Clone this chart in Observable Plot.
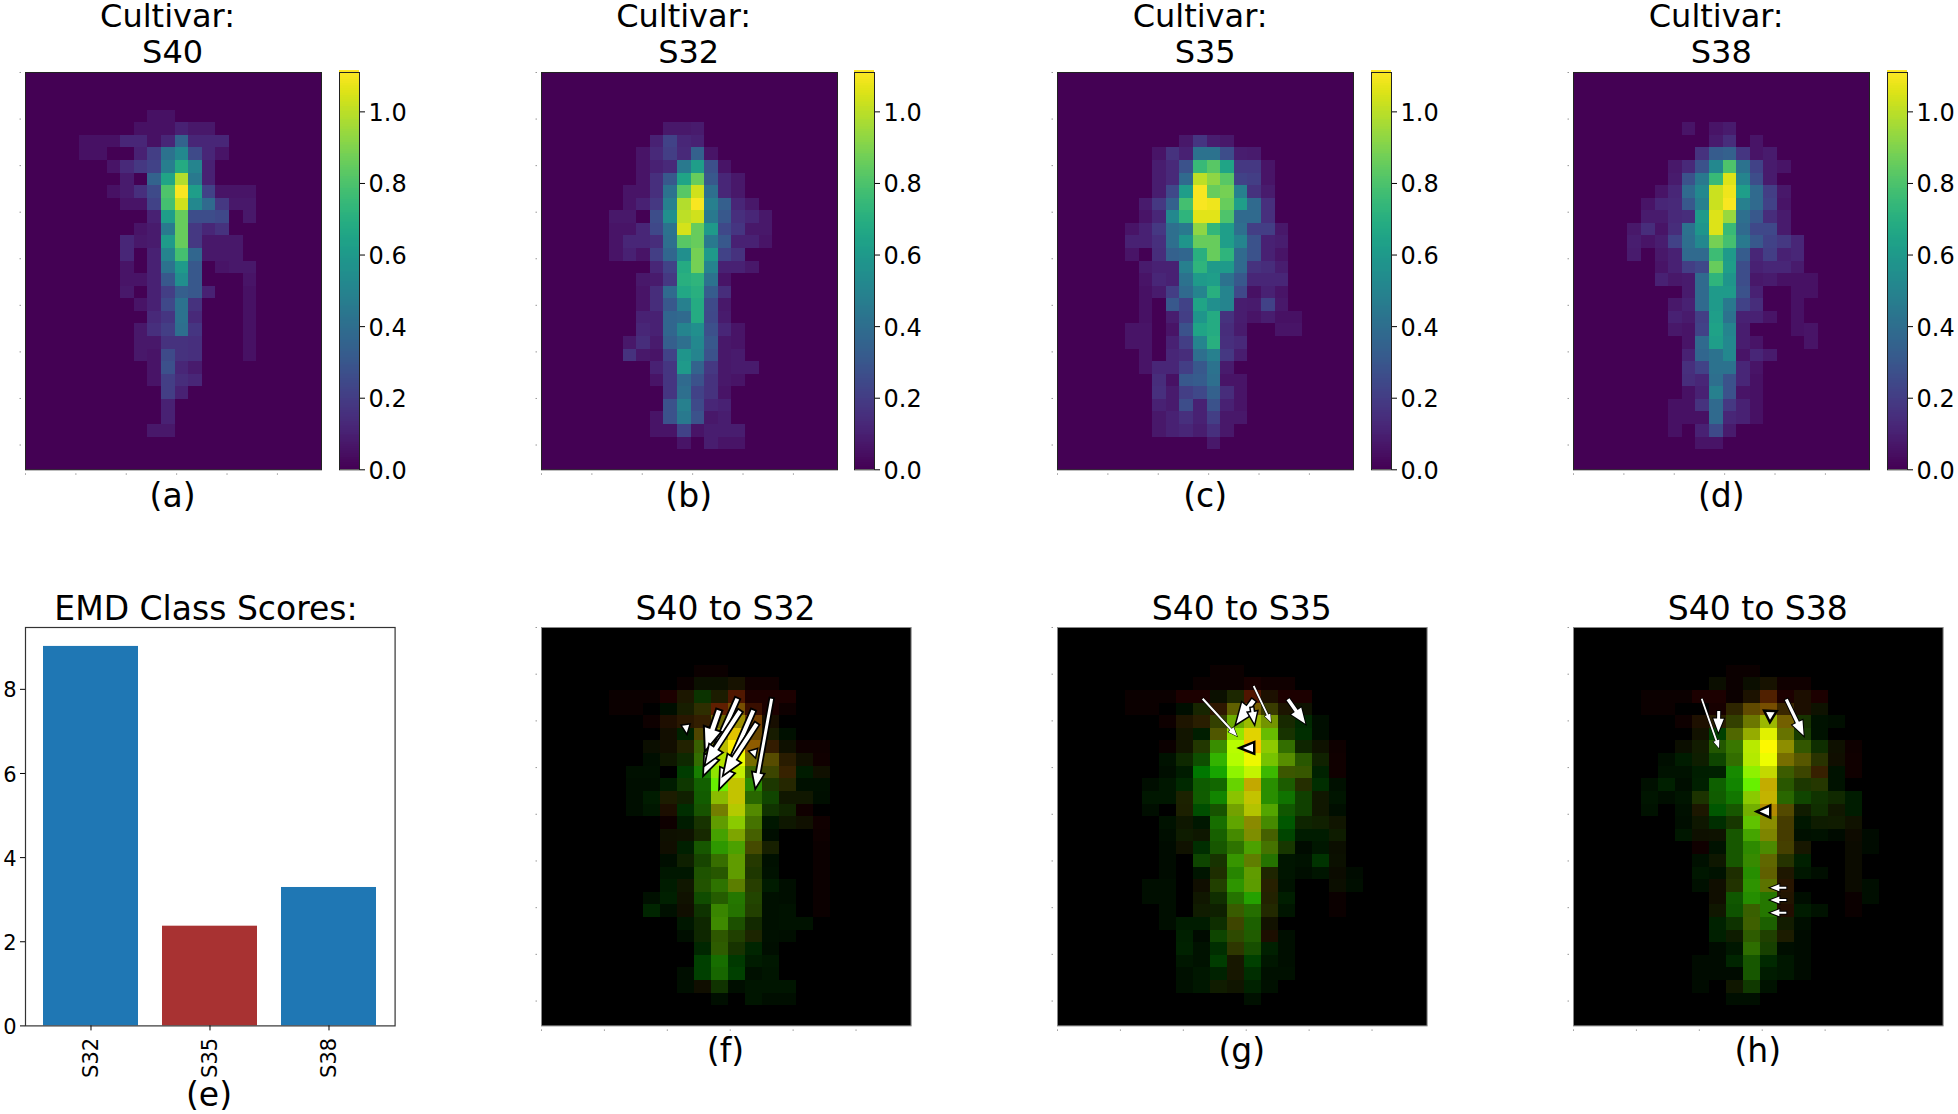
<!DOCTYPE html>
<html><head><meta charset="utf-8">
<script src="https://cdn.jsdelivr.net/npm/d3@7"></script>
<script src="https://cdn.jsdelivr.net/npm/@observablehq/plot@0.6"></script>
<style>
html,body{margin:0;padding:0;background:#fff;width:1958px;height:1114px;overflow:hidden;font-family:"DejaVu Sans",sans-serif;color:#000}
.p{position:absolute}
.t{position:absolute;transform:translateX(-50%);white-space:pre;text-align:center;line-height:36px}
svg{overflow:visible}
</style></head><body>
<script>
// Heatmap values ×100, rows 3–29, columns 4–17
const firstRow = 3, firstCol = 4;
const s40 = [
[0,0,0,0,0,5,5,0,0,0,0,0,0,0],
[0,0,0,0,5,5,5,10,7,7,0,0,0,0],
[5,5,5,12,12,5,12,35,12,12,12,0,0,0],
[5,5,0,0,10,20,42,52,25,12,6,0,0,0],
[0,0,6,13,18,22,47,68,50,10,0,0,0,0],
[0,0,0,8,0,35,65,98,45,10,0,0,0,0],
[0,0,5,8,15,25,80,110,62,22,6,6,6,0],
[0,0,0,6,6,22,78,103,52,38,18,7,7,0],
[0,0,0,0,0,10,62,85,26,26,24,0,7,0],
[0,0,0,0,6,8,45,85,18,12,16,0,0,0],
[0,0,0,12,7,8,60,85,18,7,7,7,0,0],
[0,0,0,12,0,10,50,78,36,7,7,7,0,0],
[0,0,0,6,0,10,42,60,30,0,6,7,7,0],
[0,0,0,6,6,10,30,55,30,0,0,0,6,0],
[0,0,0,7,0,10,20,33,30,10,0,0,5,0],
[0,0,0,0,6,10,24,42,16,0,0,0,5,0],
[0,0,0,0,0,13,17,42,13,0,0,0,5,0],
[0,0,0,0,7,15,20,40,17,0,0,0,5,0],
[0,0,0,0,7,7,16,16,15,0,0,0,5,0],
[0,0,0,0,7,6,25,16,15,0,0,0,5,0],
[0,0,0,0,0,6,27,12,8,0,0,0,0,0],
[0,0,0,0,0,6,20,14,12,0,0,0,0,0],
[0,0,0,0,0,0,20,10,0,0,0,0,0,0],
[0,0,0,0,0,0,10,0,0,0,0,0,0,0],
[0,0,0,0,0,0,10,0,0,0,0,0,0,0],
[0,0,0,0,0,7,7,0,0,0,0,0,0,0],
[0,0,0,0,0,0,0,0,0,0,0,0,0,0]];
const s32 = [
[0,0,0,0,0,0,0,0,0,0,0,0,0,0],
[0,0,0,0,0,7,7,8,0,0,0,0,0,0],
[0,0,0,0,10,22,12,10,0,0,0,0,0,0],
[0,0,0,6,13,20,13,34,6,0,0,0,0,0],
[0,0,0,6,10,13,45,62,27,6,0,0,0,0],
[0,0,0,6,15,30,65,85,30,12,7,0,0,0],
[0,0,6,6,15,42,82,103,40,12,7,0,0,0],
[0,0,6,10,18,48,98,110,48,33,12,7,0,0],
[0,7,7,0,26,55,100,103,45,30,15,12,7,0],
[0,6,6,12,24,42,104,85,60,24,17,7,7,0],
[0,6,12,12,14,40,82,85,45,30,10,10,6,0],
[0,6,10,6,20,36,55,88,60,22,16,0,0,0],
[0,0,0,0,12,22,68,88,50,10,10,7,0,0],
[0,0,0,7,8,18,70,72,42,6,0,0,0,0],
[0,0,0,6,14,38,66,70,32,14,0,0,0,0],
[0,0,0,6,14,30,48,68,25,7,0,0,0,0],
[0,0,0,10,10,36,38,68,24,8,0,0,0,0],
[0,0,0,12,10,36,50,55,27,12,6,0,0,0],
[0,0,7,14,8,33,40,52,30,7,6,0,0,0],
[0,0,16,7,6,22,58,50,28,7,8,0,0,0],
[0,0,0,0,10,17,60,35,18,7,8,8,0,0],
[0,0,0,0,6,17,38,28,16,7,6,0,0,0],
[0,0,0,0,0,17,40,22,16,6,0,0,0,0],
[0,0,0,0,0,28,48,25,12,10,0,0,0,0],
[0,0,0,0,6,28,45,28,7,9,0,0,0,0],
[0,0,0,0,6,6,22,6,9,9,9,0,0,0],
[0,0,0,0,0,0,6,0,9,6,6,0,0,0]];
const s35 = [
[0,0,0,0,0,0,0,0,0,0,0,0,0,0],
[0,0,0,0,0,0,0,0,0,0,0,0,0,0],
[0,0,0,0,0,7,17,9,7,0,0,0,0,0],
[0,0,0,6,16,10,42,42,26,9,8,0,0,0],
[0,0,0,9,13,28,75,82,65,18,18,6,0,0],
[0,0,0,9,13,38,100,92,82,22,20,6,0,0],
[0,0,0,9,24,62,110,85,88,48,16,8,0,0],
[0,0,8,18,34,78,110,108,85,62,38,15,0,0],
[0,0,6,12,52,72,106,106,80,38,38,15,0,0],
[0,6,10,18,40,45,92,73,62,40,20,20,7,0],
[0,10,10,15,40,58,85,85,62,50,28,10,9,0],
[0,6,0,14,34,36,70,85,72,38,28,10,6,0],
[0,0,8,10,10,48,72,60,60,38,16,14,9,0],
[0,0,6,12,10,42,60,62,42,30,12,12,12,0],
[0,0,5,8,20,38,50,70,50,24,5,10,6,0],
[0,0,5,0,30,22,65,55,50,9,8,22,7,0],
[0,0,5,0,9,20,58,68,16,9,6,9,5,5],
[0,6,6,0,6,28,65,68,14,8,0,0,6,6],
[0,6,6,0,10,20,50,70,15,13,0,0,0,0],
[0,0,6,0,12,14,40,48,18,9,0,0,0,0],
[0,0,6,12,12,20,30,42,8,0,0,0,0,0],
[0,0,0,14,5,30,32,40,6,6,0,0,0,0],
[0,0,0,15,8,20,24,34,14,6,0,0,0,0],
[0,0,0,10,8,26,10,28,10,6,0,0,0,0],
[0,0,0,7,10,15,10,20,7,7,0,0,0,0],
[0,0,0,7,10,12,9,15,7,0,0,0,0,0],
[0,0,0,0,0,0,0,7,0,0,0,0,0,0]];
const s38 = [
[0,0,0,0,0,0,0,0,0,0,0,0,0,0],
[0,0,0,0,6,0,6,8,0,0,0,0,0,0],
[0,0,0,0,0,0,8,14,0,6,0,0,0,0],
[0,0,0,0,0,16,32,34,17,6,8,0,0,0],
[0,0,0,7,13,28,52,80,42,22,8,6,0,0],
[0,0,0,8,28,45,75,105,50,26,8,0,0,0],
[0,0,6,12,38,52,102,108,62,38,20,7,0,0],
[0,6,12,13,30,48,102,110,48,38,22,6,0,0],
[0,8,8,13,14,60,105,94,40,30,14,8,0,0],
[7,14,6,14,42,58,105,75,38,24,24,8,0,0],
[9,6,9,22,40,52,88,78,45,30,22,18,12,0],
[8,0,7,10,38,38,76,60,32,12,20,10,12,0],
[0,0,6,10,20,24,85,62,26,10,12,12,8,0],
[0,0,10,7,8,38,72,58,26,7,8,5,5,5],
[0,0,0,0,8,38,60,60,28,10,0,0,5,5],
[0,0,0,7,10,38,60,45,22,14,0,0,5,0],
[0,0,0,10,8,20,62,42,10,10,6,0,5,0],
[0,0,0,7,6,22,64,50,9,0,0,0,5,6],
[0,0,0,0,6,38,62,52,9,6,0,0,0,6],
[0,0,0,0,10,36,42,52,6,12,8,0,0,0],
[0,0,0,0,15,22,42,42,12,6,0,0,0,0],
[0,0,0,0,14,12,40,28,12,5,0,0,0,0],
[0,0,0,0,5,10,48,28,6,5,0,0,0,0],
[0,0,0,5,5,16,38,18,10,5,0,0,0,0],
[0,0,0,5,5,5,38,12,10,5,0,0,0,0],
[0,0,0,5,0,10,25,8,0,0,0,0,0,0],
[0,0,0,0,0,6,6,0,0,0,0,0,0,0]];

// Arrows in grid units: tail x, tail y, tip x, tip y, shaft width, outline width
const arrowsF = [
[8.49,7.75,8.55,8.35,2,3],[12.47,9.75,12.58,10.25,2,3],
[13.55,5.65,12.61,12.63,3,3.5],[11.53,5.65,9.57,11.62,4,3.5],
[10.45,6.58,9.67,9.63,4.5,4],[11.69,6.63,9.67,10.82,4,3.5],
[12.47,6.58,10.51,12.68,4,3.5],[12.67,7.64,10.75,11.62,4,3.5]];
const arrowsG = [
[8.55,5.65,10.57,8.62,2,1],[11.55,4.64,12.57,7.51,1.8,1],
[13.57,5.70,14.59,7.64,3.5,2],[11.55,5.78,10.53,7.64,4.5,3],
[11.45,6.37,11.59,7.59,2.5,3],[11.51,9.55,10.92,9.55,2.3,5]];
const arrowsH = [
[7.55,5.65,8.57,9.58,1.8,1],[8.55,6.63,8.53,8.30,3,2],
[12.53,5.70,13.55,8.57,3.2,2],[11.59,6.71,11.57,7.31,2.4,5],
[11.51,14.59,10.96,14.59,2.4,5],[12.53,20.64,11.59,20.64,2,2],
[12.53,21.62,11.59,21.62,2,2],[12.53,22.63,11.59,22.63,2,2]];

const barCats = ["S32","S35","S38"];
const barVals = [9.02,2.37,3.29];
const barCols = ["#1f77b4","#a83232","#1f77b4"];
const cbTicks = [0,0.2,0.4,0.6,0.8,1.0];
const barTicks = [0,2,4,6,8];
const xTicks = [0,1,2,3,4,5].map(k=>k*50/13.5);
const yTicks = [0,1,2,3,4,5,6,7,8].map(k=>k*50/13.5);

const topCols = [
 {name:"S40",g:s40,left:24.6,cb:338.6,lab:"(a)"},
 {name:"S32",g:s32,left:540.7,cb:854.3,lab:"(b)"},
 {name:"S35",g:s35,left:1057.2,cb:1370.7,lab:"(c)"},
 {name:"S38",g:s38,left:1573.3,cb:1887,lab:"(d)"}];
const botCols = [
 {name:"S32",g:s32,left:540.7,a:arrowsF,lab:"(f)"},
 {name:"S35",g:s35,left:1057,a:arrowsG,lab:"(g)"},
 {name:"S38",g:s38,left:1573,a:arrowsH,lab:"(h)"}];

const VMAX = 1.11, FONT = "DejaVu Sans";
const TOP = 72, TOPH = 397.3, TOPW = 296, BOTT = 627.3, BOTH = 398.4, BOTW = 369.6;
const NX = 21.76, NY = 31.6;
const pad = 14;

function place(el,x,y){el.classList.add("p");el.style.left=x+"px";el.style.top=y+"px";document.body.appendChild(el);}
function text(s,cx,top,size){const d=document.createElement("div");d.className="t";d.textContent=s;d.style.left=cx+"px";d.style.top=top+"px";d.style.fontSize=size+"px";document.body.appendChild(d);}

const cells = g => g.flatMap((r,i)=>r.map((v,j)=>({col:j+firstCol,row:i+firstRow,v:v/100})));
const mixed = g => g.flatMap((r,i)=>r.map((v,j)=>{
  const R=Math.round(Math.min(1,s40[i][j]/100/VMAX)*255), G=Math.round(Math.min(1,v/100/VMAX)*255);
  return {col:j+firstCol,row:i+firstRow,c:`rgb(${R},${G},0)`};
}));
const tinyAxes = () => [
  Plot.axisX(xTicks,{anchor:"bottom",tickSize:1.5,tickFormat:()=>"",stroke:"#999",dy:4,label:null}),
  Plot.axisY(yTicks,{anchor:"left",tickSize:1.5,tickFormat:()=>"",stroke:"#999",dx:-4,label:null})
];
const arrowShape = {draw(ctx,l,w){
  const hw=1.75*w, hl=Math.min(4.5*w,l), sw=w/2, b=-(l-hl);
  if(hl<l){ctx.moveTo(-sw,0);ctx.lineTo(-sw,b);ctx.lineTo(-hw,b);ctx.lineTo(0,-l);ctx.lineTo(hw,b);ctx.lineTo(sw,b);ctx.lineTo(sw,0);}
  else{ctx.moveTo(-hw,0);ctx.lineTo(0,-l);ctx.lineTo(hw,0);}
  ctx.closePath();
}};
const pxX = BOTW/NX, pxY = BOTH/NY;
const arrowMark = a => {
  const dx=(a[2]-a[0])*pxX, dy=(a[3]-a[1])*pxY;
  const base = {x:d=>d[0],y:d=>d[1],length:Math.hypot(dx,dy),rotate:Math.atan2(dx,-dy)*180/Math.PI,r:a[4],shape:arrowShape,anchor:"start"};
  return [
    Plot.vector([a],{...base,fill:"black",stroke:"black",strokeWidth:a[5],strokeLinejoin:"miter",strokeMiterlimit:6,strokeLinecap:"butt"}),
    Plot.vector([a],{...base,fill:"white",stroke:"none"})
  ];
};

// top row
for(const c of topCols){
  const svg = Plot.plot({
    width:TOPW+pad*2,height:TOPH+pad*2,margin:pad,
    style:{background:"transparent",overflow:"visible",fontFamily:FONT},
    x:{domain:[0,NX],axis:null,label:null},y:{domain:[NY,0],axis:null,label:null},
    color:{type:"linear",scheme:"viridis",domain:[0,VMAX]},
    marks:[
      Plot.frame({fill:"#440154",stroke:null}),
      Plot.rect(cells(c.g).filter(d=>d.v>0),{x1:"col",x2:d=>d.col+1,y1:"row",y2:d=>d.row+1,fill:"v",shapeRendering:"crispEdges"}),
      Plot.frame({stroke:"#222",strokeWidth:1}),
      ...tinyAxes()
    ]});
  place(svg,c.left-pad,TOP-pad);
  const ramp = d3.range(0,VMAX,0.005);
  const cb = Plot.plot({
    width:100,height:TOPH+pad*2,marginLeft:1,marginRight:79,marginTop:pad,marginBottom:pad,
    style:{background:"transparent",overflow:"visible",fontFamily:FONT},
    x:{axis:null,domain:[0,1],label:null},y:{domain:[0,VMAX],axis:null,label:null},
    color:{type:"linear",scheme:"viridis",domain:[0,VMAX]},
    marks:[
      Plot.rect(ramp,{x1:0,x2:1,y1:d=>d,y2:d=>d+0.0055,fill:d=>d,shapeRendering:"crispEdges"}),
      Plot.frame({stroke:"#222",strokeWidth:1}),
      Plot.axisY(cbTicks,{anchor:"right",tickSize:5,tickFormat:()=>"",stroke:"#000",label:null}),
      Plot.axisY(cbTicks,{anchor:"right",tickSize:0,tickPadding:9,tickFormat:d3.format(".1f"),fontSize:24,fill:"#000",dy:1.3,label:null})
    ]});
  place(cb,c.cb-1,TOP-pad);
  text("Cultivar: \n"+c.name,c.left+TOPW/2,-2,32);
  text(c.lab,c.left+TOPW/2,477.6,33);
}

// bar panel
const bars = barCats.map((k,i)=>({k,v:barVals[i],c:barCols[i]}));
const barSvg = Plot.plot({
  width:369.6+30+10,height:BOTH+70,marginLeft:30,marginRight:10,marginTop:0,marginBottom:70,
  style:{background:"transparent",overflow:"visible",fontFamily:FONT},
  x:{domain:barCats,paddingInner:0.2,paddingOuter:0.144,label:null},
  y:{domain:[0,9.47],label:null},
  color:{domain:barCats,range:barCols},
  marks:[
    Plot.barY(bars,{x:"k",y:"v",fill:"k"}),
    Plot.frame({stroke:"#333",strokeWidth:1.2}),
    Plot.axisY(barTicks,{anchor:"left",tickSize:5,tickFormat:()=>"",stroke:"#000",label:null}),
    Plot.axisY(barTicks,{anchor:"left",tickSize:0,tickPadding:9,fontSize:21,label:null,fill:"#000",dy:1.3}),
    Plot.axisX({anchor:"bottom",tickSize:5,tickPadding:7,tickRotate:-90,fontSize:21,label:null,stroke:"#000",fill:"#000"})
  ]});
place(barSvg,24.6-30,BOTT);
text("EMD Class Scores:",206,590.5,33);
text("(e)",209,1076.6,33);

// composite panels
for(const c of botCols){
  const svg = Plot.plot({
    width:BOTW+pad*2,height:BOTH+pad*2,margin:pad,
    style:{background:"transparent",overflow:"visible",fontFamily:FONT},
    x:{domain:[0,NX],axis:null,label:null},y:{domain:[NY,0],axis:null,label:null},
    color:{type:"identity"},
    marks:[
      Plot.frame({fill:"#000",stroke:null}),
      Plot.rect(mixed(c.g),{x1:"col",x2:d=>d.col+1,y1:"row",y2:d=>d.row+1,fill:"c",shapeRendering:"crispEdges"}),
      Plot.frame({stroke:"#888",strokeWidth:1}),
      ...tinyAxes(),
      ...c.a.flatMap(arrowMark)
    ]});
  place(svg,c.left-pad,BOTT-pad);
  text("S40 to "+c.name,c.left+BOTW/2,590.5,33);
  text(c.lab,c.left+BOTW/2,1032.6,33);
}
</script>
</body></html>
